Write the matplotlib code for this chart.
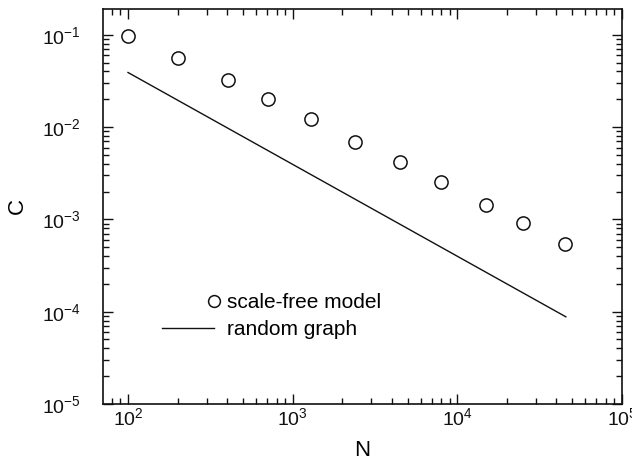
#!/usr/bin/env python3

import numpy as np
import matplotlib as mpl
mpl.use("Agg")
import matplotlib.pyplot as plt
from matplotlib.legend_handler import HandlerLine2D

# clustering coefficient C versus network size N
n_model = [100, 200, 403, 705, 1294, 2404, 4496, 7906, 15000, 25060, 44980]
c_model = [0.096, 0.0558, 0.0325, 0.0201, 0.0122, 0.00697, 0.00423, 0.00255, 0.00144, 0.000916, 0.000542]

# random graph reference line (end points)
n_random = [100, 45600]
c_random = [0.039, 8.8e-5]

label_model = "scale-free model"
label_random = "random graph"


class EndMarkerHandler(HandlerLine2D):
	# squeeze the handle to its right end so the single marker sits there
	def get_xdata(self, legend, xdescent, ydescent, width, height, fontsize):
		right = -xdescent + width
		return np.array([right, right]), np.array([right])


def main():
	plt.rcParams['font.family'] = ['Liberation Sans', 'DejaVu Sans']
	plt.rcParams['mathtext.fontset'] = 'custom'
	plt.rcParams['mathtext.rm'] = 'Liberation Sans'
	plt.rcParams['mathtext.it'] = 'Liberation Sans:italic'

	fig = plt.figure(figsize=(6.32, 4.66), dpi=100)
	ax = fig.add_axes([103 / 632, 1 - 404 / 466, 519 / 632, 395 / 466])

	model, = ax.plot(n_model, c_model, linestyle='none', marker='o', markersize=9.5,
		markerfacecolor='white', markeredgecolor='#111111', markeredgewidth=1.1,
		label=label_model)
	ax.plot(n_random, c_random, color='#111111', linewidth=1.0, label=label_random)

	ax.set_xscale('log')
	ax.set_yscale('log')
	ax.set_xlim(70.5, 1e5)
	ax.set_ylim(1e-5, 0.19)

	ax.set_xlabel("N", fontsize=16, labelpad=8)
	ax.set_ylabel("C", fontsize=16, labelpad=10)

	ax.tick_params(which='both', direction='in', top=True, right=True,
		labelsize=14, colors='#111111', width=1.0)
	ax.tick_params(which='major', length=7)
	ax.tick_params(which='minor', length=4.5)
	ax.tick_params(axis='x', which='major', pad=2.5)
	ax.tick_params(axis='y', which='major', pad=16)
	for sp in ax.spines.values():
		sp.set_linewidth(1.2)
		sp.set_color('#111111')

	leg = ax.legend(loc='center', bbox_to_anchor=(0.325, 0.222), frameon=False,
		fontsize=15, numpoints=1, handlelength=2.5, handletextpad=0.6,
		labelspacing=0.38, borderpad=0, borderaxespad=0,
		handler_map={model: EndMarkerHandler()})
	for h in leg.legend_handles:
		h.set_markersize(8.5)

	fig.savefig("out.png", dpi=100, facecolor='white')


if __name__ == '__main__':
	main()
